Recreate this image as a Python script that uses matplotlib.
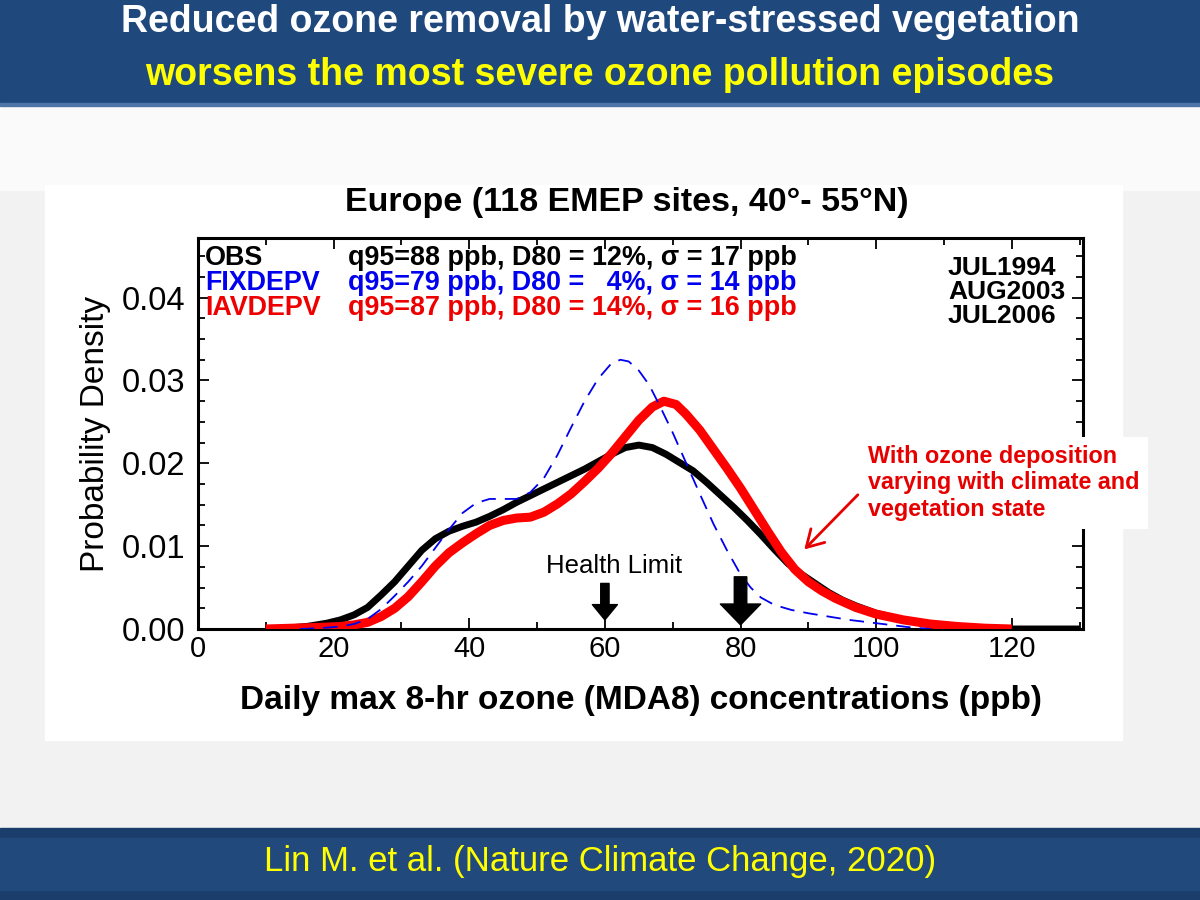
import numpy as np
import matplotlib
matplotlib.use('Agg')
import matplotlib.pyplot as plt
from matplotlib.patches import Rectangle

plt.rcParams['font.family'] = ['Liberation Sans', 'DejaVu Sans']

# ozone (ppb) and probability density
obs_x = [10, 13, 16, 19, 21, 23, 25, 27, 29, 31, 33, 35, 37, 39, 41, 43, 45, 47, 49, 51,
         53, 55, 57, 59, 61, 63, 65, 67, 69, 71, 73, 75, 77, 79, 81, 83, 85, 87, 89, 91,
         93, 95, 97, 100, 103, 106, 110, 115, 120, 125, 130]
obs_y = [0, 0.0001, 0.0003, 0.0007, 0.0011, 0.0017, 0.0026, 0.0041, 0.0057, 0.0076,
         0.0095, 0.0109, 0.0118, 0.0124, 0.0129, 0.0136, 0.0144, 0.0153, 0.0161, 0.0169,
         0.0177, 0.0185, 0.0193, 0.0202, 0.0211, 0.0219, 0.0222, 0.0219, 0.0211, 0.0201,
         0.0191, 0.0177, 0.0162, 0.0147, 0.0131, 0.0114, 0.0096, 0.0079, 0.0066, 0.0055,
         0.0044, 0.0035, 0.0028, 0.0019, 0.0013, 0.0008, 0.0004, 0.0001, 0, 0, 0]

iav_x = [10, 14, 18, 21, 23, 25, 27, 29, 31, 33, 35, 37, 39, 41, 43, 45, 47, 49, 51, 53,
         55, 57, 59, 61, 63, 65, 67, 68.7, 70.5, 72, 74, 76, 78, 80, 82, 84, 86, 88, 90,
         92, 94, 97, 100, 104, 108, 112, 116, 120]
iav_y = [0, 0.0001, 0.0002, 0.0003, 0.0005, 0.0008, 0.0015, 0.0025, 0.0039, 0.0057,
         0.0076, 0.0092, 0.0104, 0.0115, 0.0125, 0.0131, 0.0134, 0.0135, 0.0141, 0.0151,
         0.0163, 0.0178, 0.0194, 0.0212, 0.0232, 0.0252, 0.0268, 0.0275, 0.0271, 0.0259,
         0.0240, 0.0217, 0.0194, 0.0170, 0.0144, 0.0118, 0.0093, 0.0072, 0.0057, 0.0046,
         0.0037, 0.0026, 0.0018, 0.0011, 0.0006, 0.0003, 0.0001, 0]

fix_x = [15, 18, 21, 23, 25, 27, 29, 31, 33, 35, 37, 39, 41, 43, 45, 47, 49, 51, 53, 55,
         57, 59, 61, 62.3, 63.5, 65, 66.5, 68, 70, 72, 74, 76, 78, 80, 81.5, 83, 85, 87.5,
         90, 93, 96, 99, 102, 105, 108]
fix_y = [0, 0.0001, 0.0003, 0.0006, 0.0012, 0.0024, 0.0040, 0.0057, 0.0076, 0.0098,
         0.0120, 0.0140, 0.0152, 0.0157, 0.0157, 0.0157, 0.0165, 0.0182, 0.0210, 0.0243,
         0.0275, 0.0302, 0.0321, 0.0325, 0.0323, 0.0312, 0.0295, 0.0271, 0.0237, 0.0200,
         0.0163, 0.0127, 0.0095, 0.0066, 0.0050, 0.0038, 0.0029, 0.0023, 0.0019, 0.0015,
         0.0011, 0.0008, 0.0005, 0.0002, 0]

run_names = ['OBS', 'FIXDEPV', 'IAVDEPV']
run_stats = ['q95=88 ppb, D80 = 12%, σ = 17 ppb',
             'q95=79 ppb, D80 =   4%, σ = 14 ppb',
             'q95=87 ppb, D80 = 14%, σ = 16 ppb']
run_colors = ['black', '#0000ee', '#ee0000']
months = ['JUL1994', 'AUG2003', 'JUL2006']
limits = [60, 80]

fig = plt.figure(figsize=(12, 9), dpi=100)
fig.patch.set_facecolor('#f2f2f2')

# slide background pieces
fig.add_artist(Rectangle((0, 1 - 190/900), 1, 85/900, transform=fig.transFigure,
                         color='#fafafa', zorder=0))
fig.add_artist(Rectangle((45/1200, 1 - 740/900), 1077/1200, 555/900,
                         transform=fig.transFigure, color='white', zorder=0))
fig.add_artist(Rectangle((0, 1 - 103/900), 1, 103/900, transform=fig.transFigure,
                         color='#1f497d', zorder=1))
fig.add_artist(Rectangle((0, 1 - 106/900), 1, 3/900, transform=fig.transFigure,
                         color='#4f74a6', zorder=1))
fig.add_artist(Rectangle((0, 0), 1, 72/900, transform=fig.transFigure,
                         color='#1b3d6b', zorder=1))
fig.add_artist(Rectangle((0, 10/900), 1, 52/900, transform=fig.transFigure,
                         color='#22497c', zorder=1))

fig.text(0.5, 1 - 22/900, 'Reduced ozone removal by water-stressed vegetation',
         ha='center', va='center', color='white', fontsize=27, fontweight='bold')
fig.text(0.5, 1 - 75/900, 'worsens the most severe ozone pollution episodes',
         ha='center', va='center', color='#ffff00', fontsize=27, fontweight='bold')
fig.text(0.5, 38/900, 'Lin M. et al. (Nature Climate Change, 2020)',
         ha='center', va='center', color='#ffff00', fontsize=25)

fig.text(627/1200, 1 - 203/900, 'Europe (118 EMEP sites, 40°- 55°N)',
         ha='center', va='center', fontsize=24.5, fontweight='bold')

ax = fig.add_axes([198/1200, 271/900, 885/1200, 391/900])
ax.plot(obs_x, obs_y, color='black', lw=5, solid_capstyle='butt',
        solid_joinstyle='round', zorder=3)
ax.plot(iav_x, iav_y, color='#ff0000', lw=6.5, solid_capstyle='butt',
        solid_joinstyle='round', zorder=4)
ax.plot(fix_x, fix_y, color='#0000ee', lw=1.3, dashes=(8, 5), zorder=5)

ax.set_xlim(0, 130.5)
ax.set_ylim(0, 0.0472)
ax.set_xticks([0, 20, 40, 60, 80, 100, 120])
ax.set_xticks(np.arange(10, 131, 20), minor=True)
ax.set_yticks([0, 0.01, 0.02, 0.03, 0.04])
ax.set_yticks(np.arange(0, 0.047, 0.0025), minor=True)
ax.yaxis.set_major_formatter(matplotlib.ticker.FormatStrFormatter('%.2f'))
ax.tick_params(which='both', direction='in', top=True, right=True, width=1.3)
ax.tick_params(which='major', length=8)
ax.tick_params(which='minor', length=5)
ax.tick_params(axis='x', labelsize=21, pad=4)
ax.tick_params(axis='y', labelsize=23.5, pad=9)
for sp in ax.spines.values():
    sp.set_linewidth(2.2)

ax.set_ylabel('Probability Density', fontsize=24, ha='center', va='center')
ax.yaxis.set_label_coords(-0.116, 0.5)
ax.set_xlabel('Daily max 8-hr ozone (MDA8) concentrations (ppb)', fontsize=24,
              fontweight='bold', ha='center', va='center')
ax.xaxis.set_label_coords(0.5, -0.182)

# legend text block
row_y = [0.9488, 0.8849, 0.821]
for name, stat, col, yy in zip(run_names, run_stats, run_colors, row_y):
    ax.text(0.008, yy, name, transform=ax.transAxes, color=col, fontsize=19.4,
            fontweight='bold', va='center')
    ax.text(0.1695, yy, stat, transform=ax.transAxes, color=col, fontsize=19.4,
            fontweight='bold', va='center')
for m, yy in zip(months, [0.9233, 0.8619, 0.8005]):
    ax.text(0.8475, yy, m, transform=ax.transAxes, fontsize=19, fontweight='bold',
            va='center')

# health limit arrows
ax.text(61.3, 0.0076, 'Health Limit', ha='center', va='center', fontsize=18.5)
ax.annotate('', xy=(limits[0], 0.0011), xytext=(limits[0], 0.0055),
            arrowprops=dict(arrowstyle='simple,head_length=1.1,head_width=1.8,tail_width=0.6',
                            color='black', shrinkA=0, shrinkB=0, mutation_scale=10),
            zorder=6)
ax.annotate('', xy=(limits[1], 0.0005), xytext=(limits[1], 0.0063),
            arrowprops=dict(arrowstyle='simple,head_length=1.5,head_width=2.9,tail_width=0.9',
                            color='black', shrinkA=0, shrinkB=0, mutation_scale=10),
            zorder=6)

# red note
ax.text(0.757, 0.47, 'With ozone deposition\nvarying with climate and\nvegetation state',
        transform=ax.transAxes, color='#e60000', fontsize=16.8, fontweight='bold',
        ha='left', va='top', linespacing=1.18, zorder=10, clip_on=False,
        bbox=dict(facecolor='white', edgecolor='none', pad=6))
ax.annotate('', xy=(89.4, 0.0096), xytext=(97.3, 0.0162),
            arrowprops=dict(arrowstyle='->,head_length=0.6,head_width=0.35',
                            color='#e60000', lw=2, shrinkA=0, shrinkB=0,
                            mutation_scale=20))

fig.savefig('out.png', dpi=100, facecolor=fig.get_facecolor())
plt.close(fig)
